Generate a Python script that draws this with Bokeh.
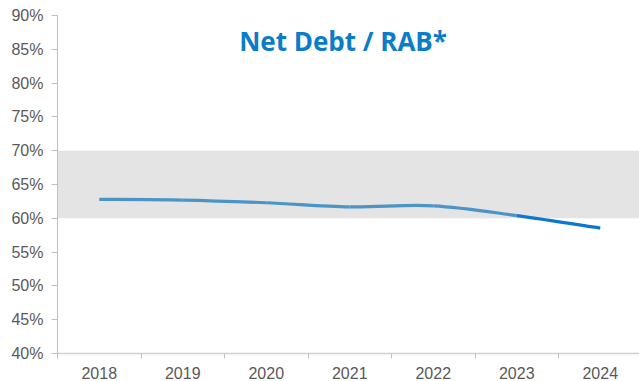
from bokeh.plotting import figure
from bokeh.models import Range1d, FixedTicker, BoxAnnotation, Label
from bokeh.embed import file_html
from bokeh.resources import INLINE

years = ["2018", "2019", "2020", "2021", "2022", "2023", "2024"]
net_debt_rab = [62.8, 62.7, 62.3, 61.7, 61.85, 60.4, 58.55]
band_low = 60
band_high = 70
y_ticks = [40, 45, 50, 55, 60, 65, 70, 75, 80, 85, 90]
title_text = "Net Debt / RAB*"

LIGHT = "#4A94C8"
DARK = "#0A78D2"

p = figure(width=639, height=381, output_backend="svg", toolbar_location=None,
           x_range=Range1d(0, 6.97), y_range=Range1d(40, 90))
p.min_border_left = 57
p.min_border_right = 0
p.min_border_top = 15
p.min_border_bottom = 28
p.outline_line_color = None
p.xgrid.visible = False
p.ygrid.visible = False
p.background_fill_color = "white"
p.border_fill_color = "white"

band = BoxAnnotation(bottom=band_low, top=band_high, fill_color="#E4E4E4",
                     fill_alpha=1.0, line_color=None, level="underlay")
p.add_layout(band)

xs = [i + 0.5 for i in range(len(years))]
n = len(xs)
x0, y0, x1, y1, cx0, cy0, cx1, cy1, cols = [], [], [], [], [], [], [], [], []
for i in range(n - 1):
    pa = (xs[i - 1], net_debt_rab[i - 1]) if i > 0 else (xs[i], net_debt_rab[i])
    pb = (xs[i], net_debt_rab[i])
    pc = (xs[i + 1], net_debt_rab[i + 1])
    pd = (xs[i + 2], net_debt_rab[i + 2]) if i + 2 < n else pc
    x0.append(pb[0]); y0.append(pb[1])
    x1.append(pc[0]); y1.append(pc[1])
    cx0.append(pb[0] + (pc[0] - pa[0]) / 6); cy0.append(pb[1] + (pc[1] - pa[1]) / 6)
    cx1.append(pc[0] - (pd[0] - pb[0]) / 6); cy1.append(pc[1] - (pd[1] - pb[1]) / 6)
    cols.append(DARK if i == n - 2 else LIGHT)

p.bezier(x0=x0, y0=y0, x1=x1, y1=y1, cx0=cx0, cy0=cy0, cx1=cx1, cy1=cy1,
         line_color=cols, line_width=3.2)

# axes
p.xaxis.ticker = FixedTicker(ticks=xs, minor_ticks=list(range(len(years))))
p.xaxis.major_label_overrides = {x: y for x, y in zip(xs, years)}
p.xaxis.major_tick_out = 0
p.xaxis.major_tick_in = 0
p.xaxis.minor_tick_out = 5
p.xaxis.minor_tick_in = 0
p.xaxis.minor_tick_line_color = "#BFBFBF"
p.xaxis.axis_line_color = "#D0D0D0"
p.xaxis.axis_line_width = 1.5
p.xaxis.major_label_standoff = 8

p.yaxis.ticker = FixedTicker(ticks=y_ticks, minor_ticks=[])
p.yaxis.major_label_overrides = {v: f"{v}%" for v in y_ticks}
p.yaxis.major_tick_out = 6
p.yaxis.major_tick_in = 0
p.yaxis.major_tick_line_color = "#BFBFBF"
p.yaxis.axis_line_color = "#BFBFBF"
p.yaxis.major_label_standoff = 8

for ax in (p.xaxis[0], p.yaxis[0]):
    ax.major_label_text_font = "Liberation Sans"
    ax.major_label_text_font_size = "16px"
    ax.major_label_text_color = "#595959"

title = Label(x=3.42, y=86.3, text=title_text, text_align="center",
              text_baseline="alphabetic", text_font="Open Sans",
              text_font_style="bold", text_font_size="26px", text_color="#0A7CC8")
p.add_layout(title)

open("out.html", "w").write(file_html(p, INLINE))
